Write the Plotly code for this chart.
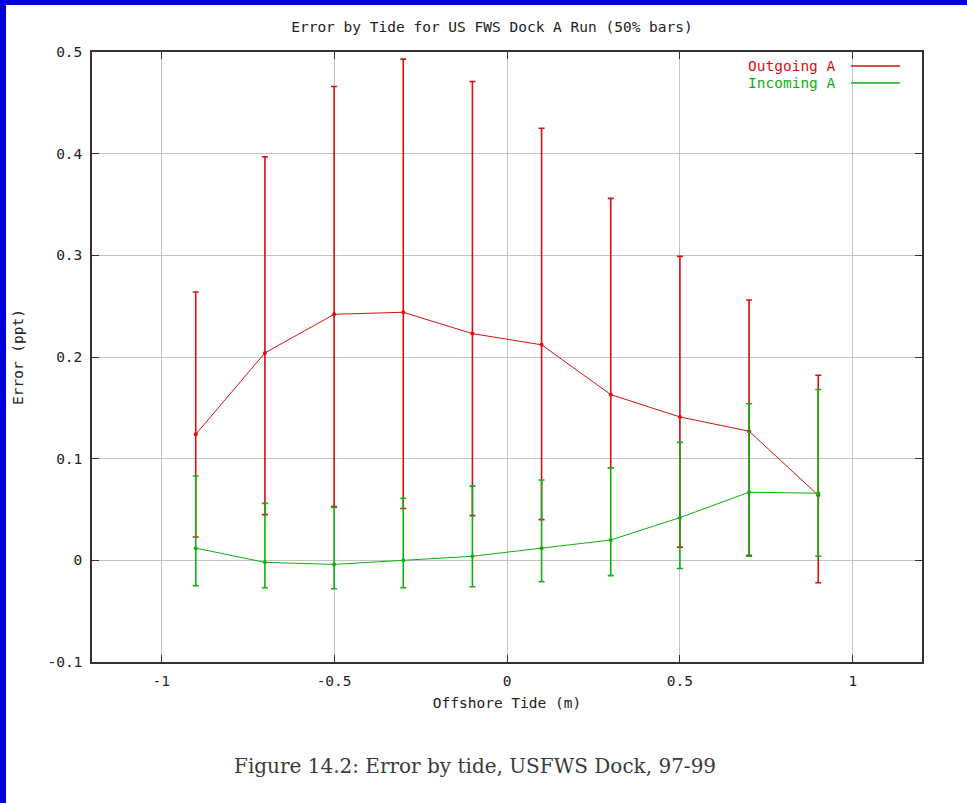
import plotly.graph_objects as go

# ---- data ----
tide = [-0.9, -0.7, -0.5, -0.3, -0.1, 0.1, 0.3, 0.5, 0.7, 0.9]

out_mean = [0.124, 0.204, 0.242, 0.244, 0.223, 0.212, 0.163, 0.141, 0.127, 0.064]
out_hi = [0.264, 0.397, 0.466, 0.493, 0.471, 0.425, 0.356, 0.299, 0.256, 0.182]
out_lo = [0.023, 0.045, 0.053, 0.051, 0.044, 0.040, 0.091, 0.013, 0.005, -0.022]

in_mean = [0.012, -0.002, -0.004, 0.000, 0.004, 0.012, 0.020, 0.042, 0.067, 0.066]
in_hi = [0.083, 0.056, 0.052, 0.061, 0.073, 0.079, 0.091, 0.116, 0.154, 0.168]
in_lo = [-0.025, -0.027, -0.028, -0.027, -0.026, -0.021, -0.015, -0.008, 0.004, 0.004]

x_tickvals = [-1, -0.5, 0, 0.5, 1]
x_ticktext = ["-1", "-0.5", "0", "0.5", "1"]
y_tickvals = [-0.1, 0, 0.1, 0.2, 0.3, 0.4, 0.5]
y_ticktext = ["-0.1", "0", "0.1", "0.2", "0.3", "0.4", "0.5"]

series_names = ["Outgoing A", "Incoming A"]
title_text = "Error by Tide for US FWS Dock A Run (50% bars)"
x_title = "Offshore Tide (m)"
y_title = "Error (ppt)"
caption = "Figure 14.2: Error by tide, USFWS Dock, 97-99"

RED = "#d81010"
GREEN = "#10b010"
MONO = "DejaVu Sans Mono"
FS = 14.5

fig = go.Figure()


def add_series(mean, hi, lo, color, name):
    fig.add_trace(go.Scatter(
        x=tide, y=mean, mode="lines+markers", name=name,
        line=dict(color=color, width=1),
        marker=dict(size=4, color=color),
        error_y=dict(type="data", symmetric=False,
                     array=[h - m for h, m in zip(hi, mean)],
                     arrayminus=[m - l for m, l in zip(mean, lo)],
                     color=color, thickness=1.6, width=3),
        showlegend=False,
    ))


add_series(out_mean, out_hi, out_lo, RED, series_names[0])
add_series(in_mean, in_hi, in_lo, GREEN, series_names[1])

axis_common = dict(
    showgrid=True, gridcolor="#c4c4c4", gridwidth=1,
    showline=True, linecolor="#333333", linewidth=1.5, mirror="ticks",
    ticks="inside", ticklen=7, tickcolor="#333333", tickwidth=1,
    zeroline=False,
    tickfont=dict(family=MONO, size=FS, color="#222222"),
)

fig.update_layout(
    width=967, height=803,
    margin=dict(l=92, r=45, t=52, b=141, autoexpand=False),
    paper_bgcolor="white", plot_bgcolor="white",
    title=dict(text=title_text, x=492 / 967, xanchor="center",
               y=1 - 27 / 803, yanchor="middle",
               font=dict(family=MONO, size=FS, color="#222222")),
    xaxis=dict(range=[-1.2, 1.2], tickvals=x_tickvals, ticktext=x_ticktext,
               ticklabelstandoff=5,
               title=dict(text=x_title, standoff=10,
                          font=dict(family=MONO, size=FS, color="#222222")),
               **axis_common),
    yaxis=dict(range=[-0.1, 0.5], tickvals=y_tickvals, ticktext=y_ticktext,
               ticklabelstandoff=5,
               title=dict(text=y_title, standoff=20,
                          font=dict(family=MONO, size=FS, color="#222222")),
               **axis_common),
    font=dict(family=MONO),
)

# legend in gnuplot style: right-aligned label then line sample
legend_rows = [(0.977, RED), (0.949, GREEN)]
shapes = [
    # white area behind legend hides the grid
    dict(type="rect", xref="paper", yref="paper", x0=0.77, x1=0.98,
         y0=0.937, y1=0.988, fillcolor="white", line=dict(width=0),
         layer="between"),
]
annotations = []
for (yy, col), nm in zip(legend_rows, series_names):
    annotations.append(dict(text=nm, xref="paper", yref="paper", x=0.8988,
                            y=yy, xanchor="right", yanchor="middle",
                            showarrow=False,
                            font=dict(family=MONO, size=FS, color=col)))
    shapes.append(dict(type="line", xref="paper", yref="paper", x0=0.9145,
                       x1=0.9735, y0=yy, y1=yy, line=dict(color=col, width=1.5)))

# blue page frame (left and top)
shapes.append(dict(type="rect", xref="paper", yref="paper", x0=-0.2, x1=-0.1036,
                   y0=-0.5, y1=1.3, fillcolor="#0000d8", line=dict(width=0),
                   layer="above"))
shapes.append(dict(type="rect", xref="paper", yref="paper", x0=-0.2, x1=1.2,
                   y0=1.0770, y1=1.3, fillcolor="#0000d8", line=dict(width=0),
                   layer="above"))

annotations.append(dict(text=caption, xref="paper", yref="paper",
                        x=(474.5 - 92) / 830, y=(662 - 766) / 610,
                        xanchor="center", yanchor="middle", showarrow=False,
                        font=dict(family="DejaVu Serif", size=20, color="#3a3a3a")))

fig.update_layout(shapes=shapes, annotations=annotations)

fig.write_html("out.html", config={"displayModeBar": False},
               post_script="document.body.style.margin='0';"
                           "document.body.style.overflow='hidden';")
